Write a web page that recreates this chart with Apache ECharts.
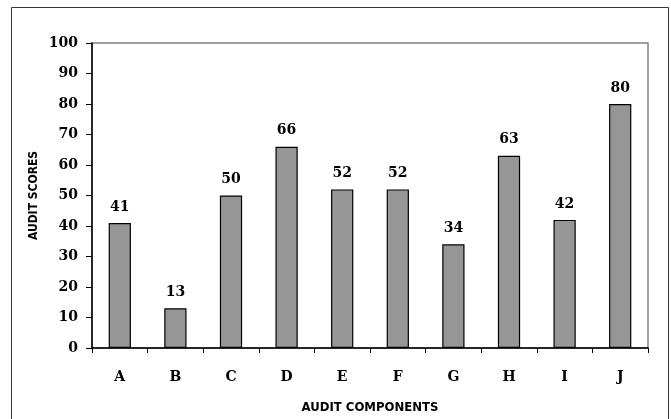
<!DOCTYPE html>
<html>
<head>
<meta charset="utf-8">
<script src="https://cdn.jsdelivr.net/npm/echarts@6/dist/echarts.min.js"></script>
<style>
  html, body { margin: 0; padding: 0; background: #fff; }
  #chart { width: 671px; height: 419px; }
</style>
</head>
<body>
<div id="chart"></div>
<script>
// Audit scores per component
const components = ['A', 'B', 'C', 'D', 'E', 'F', 'G', 'H', 'I', 'J'];
const scores = [41, 13, 50, 66, 52, 52, 34, 63, 42, 80];
const yTicks = { min: 0, max: 100, interval: 10 };

const serif = 'DejaVu Serif';
const narrow = 'DejaVu Sans Condensed';

const chart = echarts.init(document.getElementById('chart'), null, { renderer: 'canvas' });

chart.setOption({
  animation: false,
  backgroundColor: '#ffffff',
  grid: { left: 92, top: 43, right: 23, bottom: 71, show: true, borderColor: '#808080', borderWidth: 1.5, backgroundColor: 'transparent' },
  graphic: [
    {
      // frame around the whole figure (open at the bottom edge of the page)
      type: 'rect',
      shape: { x: 11.5, y: 7.5, width: 657, height: 430 },
      style: { fill: 'none', stroke: '#333', lineWidth: 1 },
      silent: true
    }
  ],
  xAxis: {
    type: 'category',
    data: components,
    name: 'AUDIT COMPONENTS',
    nameLocation: 'middle',
    nameGap: 53,
    nameTextStyle: { fontFamily: narrow, fontWeight: 'bold', fontSize: 13, color: '#000' },
    axisLine: { lineStyle: { color: '#000', width: 1.5 } },
    axisTick: { show: true, length: 5, alignWithLabel: false, lineStyle: { color: '#000', width: 1 } },
    axisLabel: { margin: 22, fontFamily: serif, fontWeight: 'bold', fontSize: 14, color: '#000' },
    splitLine: { show: false }
  },
  yAxis: {
    type: 'value',
    min: yTicks.min,
    max: yTicks.max,
    interval: yTicks.interval,
    name: 'AUDIT SCORES',
    nameLocation: 'middle',
    nameGap: 52,
    nameMoveOverlap: false,
    nameRotate: 90,
    nameTextStyle: { fontFamily: narrow, fontWeight: 'bold', fontSize: 12, color: '#000' },
    axisLine: { show: true, lineStyle: { color: '#000', width: 1.5 } },
    axisTick: { show: true, length: 6, inside: false, lineStyle: { color: '#000', width: 1 } },
    axisLabel: { margin: 14, fontFamily: serif, fontWeight: 'bold', fontSize: 14, color: '#000' },
    splitLine: { show: false }
  },
  series: [{
    type: 'bar',
    data: scores,
    barCategoryGap: '60%',
    itemStyle: { color: '#969696', borderColor: '#000', borderWidth: 1.2 },
    label: {
      show: true,
      position: 'top',
      distance: 9,
      fontFamily: serif,
      fontWeight: 'bold',
      fontSize: 14,
      color: '#000'
    }
  }]
});
</script>
</body>
</html>
